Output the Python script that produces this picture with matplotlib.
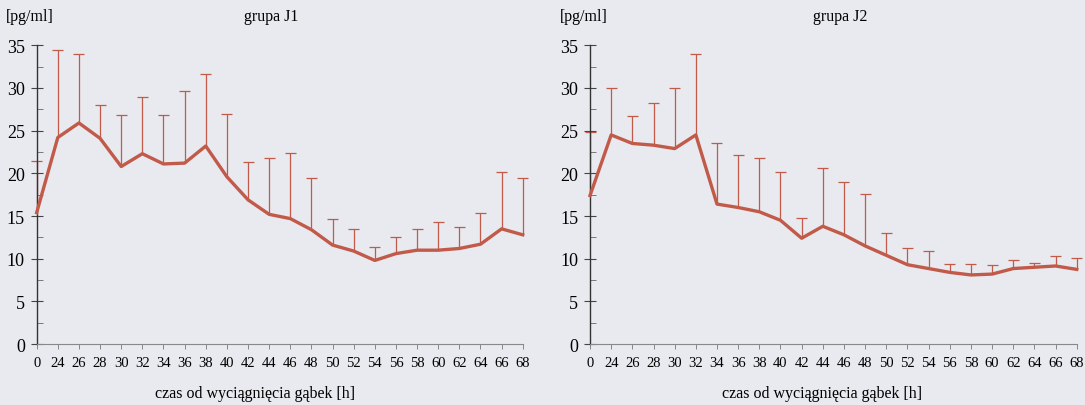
import matplotlib.pyplot as plt
from matplotlib.ticker import MultipleLocator

plt.rcParams['font.family'] = ['Liberation Serif', 'DejaVu Serif']

hours = ['0', '24', '26', '28', '30', '32', '34', '36', '38', '40', '42', '44',
         '46', '48', '50', '52', '54', '56', '58', '60', '62', '64', '66', '68']

# grupa J1 - mean and upper end of the error bar [pg/ml]
j1_mean = [15.4, 24.2, 25.9, 24.1, 20.8, 22.3, 21.1, 21.2, 23.2, 19.6, 16.9, 15.2,
           14.7, 13.4, 11.6, 10.9, 9.8, 10.6, 11.0, 11.0, 11.2, 11.7, 13.5, 12.8]
j1_top = [21.5, 34.4, 34.0, 28.0, 26.8, 28.9, 26.8, 29.6, 31.6, 26.9, 21.3, 21.8,
          22.4, 19.5, 14.7, 13.5, 11.4, 12.5, 13.5, 14.3, 13.7, 15.3, 20.1, 19.5]

# grupa J2
j2_mean = [17.4, 24.5, 23.5, 23.3, 22.9, 24.5, 16.4, 16.0, 15.5, 14.5, 12.4, 13.8,
           12.8, 11.5, 10.4, 9.3, 8.85, 8.4, 8.1, 8.2, 8.85, 9.0, 9.15, 8.75]
j2_top = [24.8, 30.0, 26.7, 28.2, 30.0, 34.0, 23.6, 22.2, 21.8, 20.2, 14.8, 20.6,
          19.0, 17.6, 13.0, 11.3, 10.9, 9.4, 9.35, 9.3, 9.8, 9.5, 10.3, 10.1]

bg = '#e8eaef'
red = '#c25a4a'

fig = plt.figure(figsize=(10.85, 4.06), dpi=100, facecolor=bg)


def draw_panel(rect, mean, top, title, title_x, xlab_x):
    ax = fig.add_axes(rect)
    ax.set_facecolor(bg)
    x = list(range(len(hours)))
    # upper error bars only: stem from the mean up, short cap on top
    ax.vlines(x, mean, top, color=red, lw=0.9, zorder=2, clip_on=False)
    ax.hlines(top, [i - 0.26 for i in x], [i + 0.26 for i in x], color=red,
              lw=0.9, zorder=2, clip_on=False)
    ax.plot(x, mean, color=red, lw=2.4, zorder=3, clip_on=False)
    ax.set_xlim(0, len(hours) - 1)
    ax.set_ylim(0, 35)
    ax.set_xticks(x)
    ax.set_xticklabels(hours, fontsize=10.5)
    ax.yaxis.set_major_locator(MultipleLocator(5))
    ax.yaxis.set_minor_locator(MultipleLocator(2.5))
    ax.tick_params(axis='y', which='major', direction='inout', length=9, width=0.8,
                   color='#444444', labelsize=13, pad=4)
    ax.tick_params(axis='y', which='minor', direction='in', length=4, width=0.6,
                   color='#666666')
    ax.tick_params(axis='x', direction='out', length=3.5, width=0.6,
                   color='#777777', pad=5)
    for s in ['top', 'right']:
        ax.spines[s].set_visible(False)
    ax.spines['left'].set_color('#333333')
    ax.spines['left'].set_linewidth(1.0)
    ax.spines['bottom'].set_color('#888888')
    ax.spines['bottom'].set_linewidth(0.8)
    bb = ax.get_position()
    fig.text(bb.x0 - 0.028, 0.957, '[pg/ml]', fontsize=11.5, va='center', ha='left')
    fig.text(title_x, 0.957, title, fontsize=11.5, va='center', ha='center')
    fig.text(xlab_x, 0.03, 'czas od wyciągnięcia gąbek [h]',
             fontsize=11.5, va='center', ha='center')
    return ax


draw_panel([0.0338, 0.150, 0.448, 0.736], j1_mean, j1_top, 'grupa J1', 0.2495, 0.235)
draw_panel([0.5438, 0.150, 0.4486, 0.736], j2_mean, j2_top, 'grupa J2', 0.7742, 0.758)

fig.savefig('out.png', dpi=100, facecolor=bg)
